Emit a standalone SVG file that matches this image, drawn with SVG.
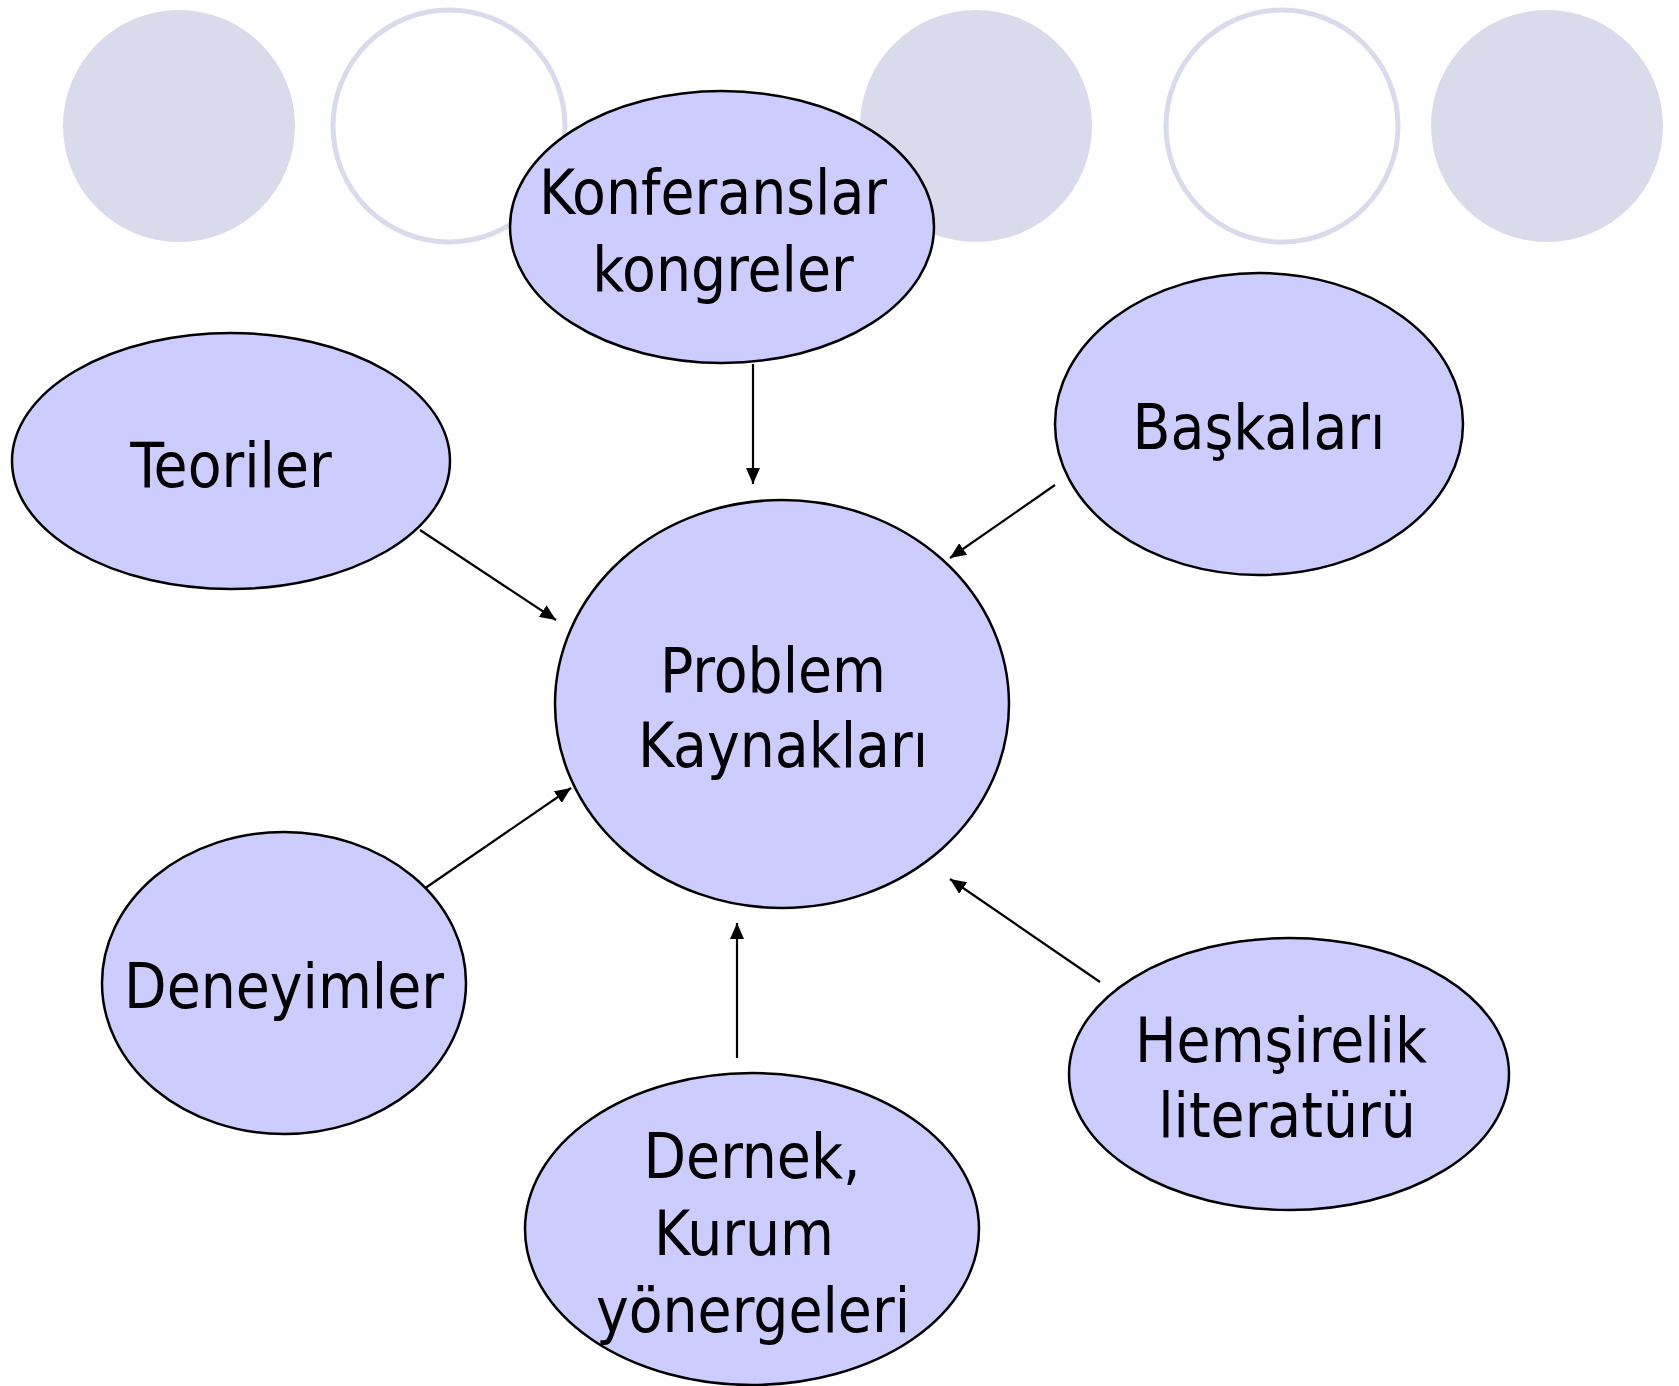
<svg xmlns="http://www.w3.org/2000/svg" width="1679" height="1386" viewBox="0 0 1679 1386">
<style>
.bgf{fill:#DADAED;stroke:none}
.bgo{fill:#FFFFFF;stroke:#DADAED;stroke-width:5}
.node{fill:#CCCCFF;stroke:#000;stroke-width:2.5}
.lbl{font-family:"DejaVu Sans Condensed","DejaVu Sans",sans-serif;font-size:61.5px;fill:#000;text-anchor:middle}
.edge{stroke:#000;stroke-width:2.2;fill:none;marker-end:url(#ah)}
</style>
<defs>
<marker id="ah" markerUnits="userSpaceOnUse" markerWidth="18" markerHeight="14" refX="16" refY="7" orient="auto">
<path d="M0,0 L16,7 L0,14 Z" fill="#000"/>
</marker>
</defs>
<rect width="1679" height="1386" fill="#FFFFFF"/>
<g id="background">
<circle class="bgf" cx="179" cy="126" r="116"/>
<circle class="bgo" cx="449" cy="126" r="116"/>
<circle class="bgf" cx="976" cy="126" r="116"/>
<circle class="bgo" cx="1282" cy="126" r="116"/>
<circle class="bgf" cx="1547" cy="126" r="116"/>
</g>
<g id="connectors">
<line class="edge" x1="753" y1="364" x2="753" y2="484"/>
<line class="edge" x1="1055" y1="485" x2="950" y2="558"/>
<line class="edge" x1="420" y1="530" x2="556" y2="620"/>
<line class="edge" x1="421" y1="891" x2="571" y2="788"/>
<line class="edge" x1="737" y1="1058" x2="737" y2="923"/>
<line class="edge" x1="1100" y1="982" x2="950" y2="879"/>
</g>
<g id="node-konferanslar">
<ellipse class="node" cx="722" cy="227" rx="212" ry="136"/>
<text class="lbl" x="713" y="214">Konferanslar</text>
<text class="lbl" x="723" y="291">kongreler</text>
</g>
<g id="node-baskalari">
<ellipse class="node" cx="1259" cy="424" rx="204" ry="151"/>
<text class="lbl" x="1259" y="449">Başkaları</text>
</g>
<g id="node-teoriler">
<ellipse class="node" cx="231" cy="461" rx="219" ry="128"/>
<text class="lbl" x="231" y="487">Teoriler</text>
</g>
<g id="node-problem">
<ellipse class="node" cx="782" cy="704" rx="227" ry="204"/>
<text class="lbl" x="773" y="692">Problem</text>
<text class="lbl" x="783" y="767">Kaynakları</text>
</g>
<g id="node-deneyimler">
<ellipse class="node" cx="284" cy="983" rx="182" ry="151"/>
<text class="lbl" x="284" y="1008">Deneyimler</text>
</g>
<g id="node-dernek">
<ellipse class="node" cx="752" cy="1229" rx="227" ry="156"/>
<text class="lbl" x="752" y="1178">Dernek,</text>
<text class="lbl" x="744" y="1255">Kurum</text>
<text class="lbl" x="753" y="1332">yönergeleri</text>
</g>
<g id="node-hemsirelik">
<ellipse class="node" cx="1289" cy="1074" rx="220" ry="136"/>
<text class="lbl" x="1281" y="1062">Hemşirelik</text>
<text class="lbl" x="1287" y="1137">literatürü</text>
</g>
</svg>
